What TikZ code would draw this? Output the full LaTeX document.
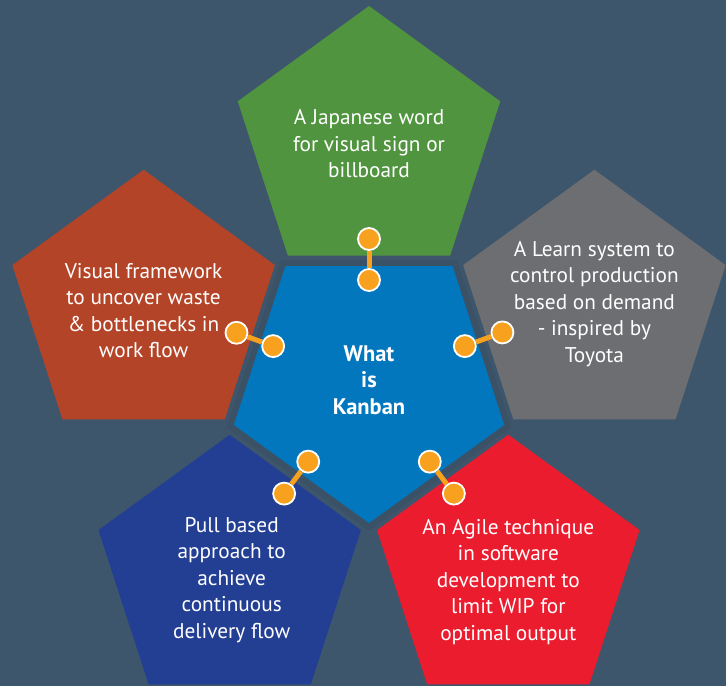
\documentclass[tikz,border=0pt]{standalone}
\usepackage{fontspec}
\setmainfont{PT Sans}
\usepackage{tikz}
\usetikzlibrary{positioning}
\usetikzlibrary{calc, shapes.geometric}
\definecolor{slate}{HTML}{3E566C}
\definecolor{gapline}{HTML}{3A5166}
\definecolor{kbblue}{HTML}{0277BE}
\definecolor{kbgreen}{HTML}{519440}
\definecolor{kbgray}{HTML}{6D6E72}
\definecolor{kbrust}{HTML}{B44428}
\definecolor{kbnavy}{HTML}{233F94}
\definecolor{kbred}{HTML}{EC1C2F}
\definecolor{kborange}{HTML}{F7A11E}

\begin{document}
\begin{tikzpicture}[
      x=1pt, y=1pt,
      pent/.style={regular polygon, regular polygon sides=5, minimum size=276pt, inner sep=0pt, outer sep=0pt},
      txt/.style={text=white, align=center, font=\fontsize{21.3}{26.5}\selectfont},
      dot/.style={circle, fill=kborange, draw=white, line width=1.8pt, minimum size=22pt, inner sep=0pt},
      link/.style={draw=kborange, line width=5pt}
    ]
    \useasboundingbox (0,0) rectangle (726,686);
    \clip (0,0) rectangle (726,686);
    \fill[slate] (0,0) rectangle (726,686);

    % centre and the five petals
    \node(hub)[pent, minimum size=292pt, shape border rotate=180, fill=kbblue, draw=gapline, line width=6pt] at (369,305) {};
    \node(top)[pent, fill=kbgreen] at ($(hub.center)+(90:237)$) {};
    \node(east)[pent, fill=kbgray] at ($(hub.center)+(18:237)$) {};
    \node(west)[pent, fill=kbrust] at ($(hub.center)+(162:237)$) {};
    \node(sw)[pent, fill=kbnavy] at ($(hub.center)+(-126:237)$) {};
    \node(se)[pent, fill=kbred] at ($(hub.center)+(-54:237)$) {};

    \node(hubtxt)[txt, font=\fontsize{22.5}{26.5}\selectfont\bfseries] at ($(hub.center)+(0,1)$) {What\\is\\Kanban};
    \node(toptxt)[txt] at (top.center) {A Japanese word\\for visual sign or\\billboard};
    \node(easttxt)[txt] at ($(east.center)+(0,4)$) {A Learn system to\\control production\\based on demand\\- inspired by\\Toyota};
    \node(westtxt)[txt] at ($(west.center)+(0,-3)$) {Visual framework\\to uncover waste\\\& bottlenecks in\\work flow};
    \node(swtxt)[txt] at ($(sw.center)+(2,-7)$) {Pull based\\approach to\\achieve\\continuous\\delivery flow};
    \node(setxt)[txt] at ($(se.center)+(0,-9)$) {An Agile technique\\in software\\development to\\limit WIP for\\optimal output};

    % connectors
    \node(h1)[dot] at ($(hub.center)+(90:101)$) {};
    \node(t1)[dot] at ($(hub.center)+(90:142)$) {};
    \node(h2)[dot] at ($(hub.center)+(20:102)$) {};
    \node(e1)[dot] at ($(hub.center)+(20:142)$) {};
    \node(h3)[dot] at ($(hub.center)+(160:102)$) {};
    \node(w1)[dot] at ($(hub.center)+(160:141)$) {};
    \node(h4)[dot] at ($(hub.center)+(-127:101)$) {};
    \node(s1)[dot] at ($(hub.center)+(-127:141)$) {};
    \node(h5)[dot] at ($(hub.center)+(-53:101)$) {};
    \node(s2)[dot] at ($(hub.center)+(-53:141)$) {};

    \draw [link] (h1) -- (t1);
    \draw [link] (h2) -- (e1);
    \draw [link] (h3) -- (w1);
    \draw [link] (h4) -- (s1);
    \draw [link] (h5) -- (s2);
    \end{tikzpicture}
\end{document}
